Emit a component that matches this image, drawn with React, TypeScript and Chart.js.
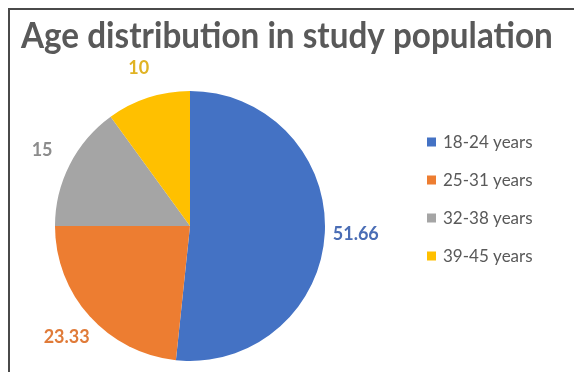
import React, { useEffect, useRef } from "react";
import { Chart, registerables } from "chart.js";

Chart.register(...registerables);

const TITLE = "Age distribution in study population";
const CATEGORIES = ["18-24 years", "25-31 years", "32-38 years", "39-45 years"];
const VALUES = [51.66, 23.33, 15, 10];
const VALUE_LABELS = ["51.66", "23.33", "15", "10"];
const COLORS = ["#4472C4", "#ED7D31", "#A5A5A5", "#FFC000"];
const LABEL_COLORS = ["#4A6DB5", "#E07B39", "#8C8C8C", "#E0B324"];

const decorPlugin = {
  id: "decor",
  afterDraw(chart: any) {
    const ctx = chart.ctx as CanvasRenderingContext2D;
    ctx.save();
    // frame
    ctx.fillStyle = "#4a4a4a";
    ctx.fillRect(8, 8, chart.width - 8, 2);
    ctx.fillRect(8, 8, 2, chart.height - 8);

    // title, fitted to width
    const targetW = 532;
    ctx.font = "bold 100px Lato";
    const w100 = ctx.measureText(TITLE).width;
    const size = (100 * targetW) / w100;
    ctx.font = `bold ${size}px Lato`;
    ctx.fillStyle = "#595959";
    ctx.textAlign = "left";
    ctx.textBaseline = "alphabetic";
    ctx.save();
    ctx.translate(21, 48);
    ctx.scale(1, 1.08);
    ctx.fillText(TITLE, 0, 0);
    ctx.restore();

    // data labels
    const meta = chart.getDatasetMeta(0);
    ctx.font = "bold 18px Lato";
    ctx.textAlign = "center";
    ctx.textBaseline = "middle";
    meta.data.forEach((arc: any, i: number) => {
      const p = arc.getProps(["x", "y", "startAngle", "endAngle", "outerRadius"], true);
      const mid = (p.startAngle + p.endAngle) / 2;
      const d = p.outerRadius + 31;
      ctx.fillStyle = LABEL_COLORS[i];
      ctx.fillText(VALUE_LABELS[i], p.x + Math.cos(mid) * d, p.y + Math.sin(mid) * d);
    });

    // legend
    ctx.font = "17px Lato";
    ctx.textAlign = "left";
    CATEGORIES.forEach((c, i) => {
      const y = 142 + i * 38;
      ctx.fillStyle = COLORS[i];
      ctx.fillRect(427, y - 4.5, 9, 9);
      ctx.fillStyle = "#595959";
      ctx.fillText(c, 443, y + 1);
    });
    ctx.restore();
  },
};

export default function App() {
  const ref = useRef<HTMLCanvasElement>(null);
  useEffect(() => {
    if (!ref.current) return;
    const chart = new Chart(ref.current, {
      type: "pie",
      data: {
        labels: CATEGORIES,
        datasets: [
          {
            data: VALUES,
            backgroundColor: COLORS,
            borderWidth: 0,
          },
        ],
      },
      options: {
        responsive: false,
        animation: false,
        layout: { padding: { left: 55, top: 91, right: 249, bottom: 11 } },
        plugins: {
          legend: { display: false },
          title: { display: false },
          tooltip: { enabled: false },
        },
      },
      plugins: [decorPlugin],
    });
    return () => chart.destroy();
  }, []);
  return (
    <div style={{ position: "fixed", left: 0, top: 0, width: 574, height: 372, background: "#fff" }}>
      <canvas ref={ref} width={574} height={372} />
    </div>
  );
}
